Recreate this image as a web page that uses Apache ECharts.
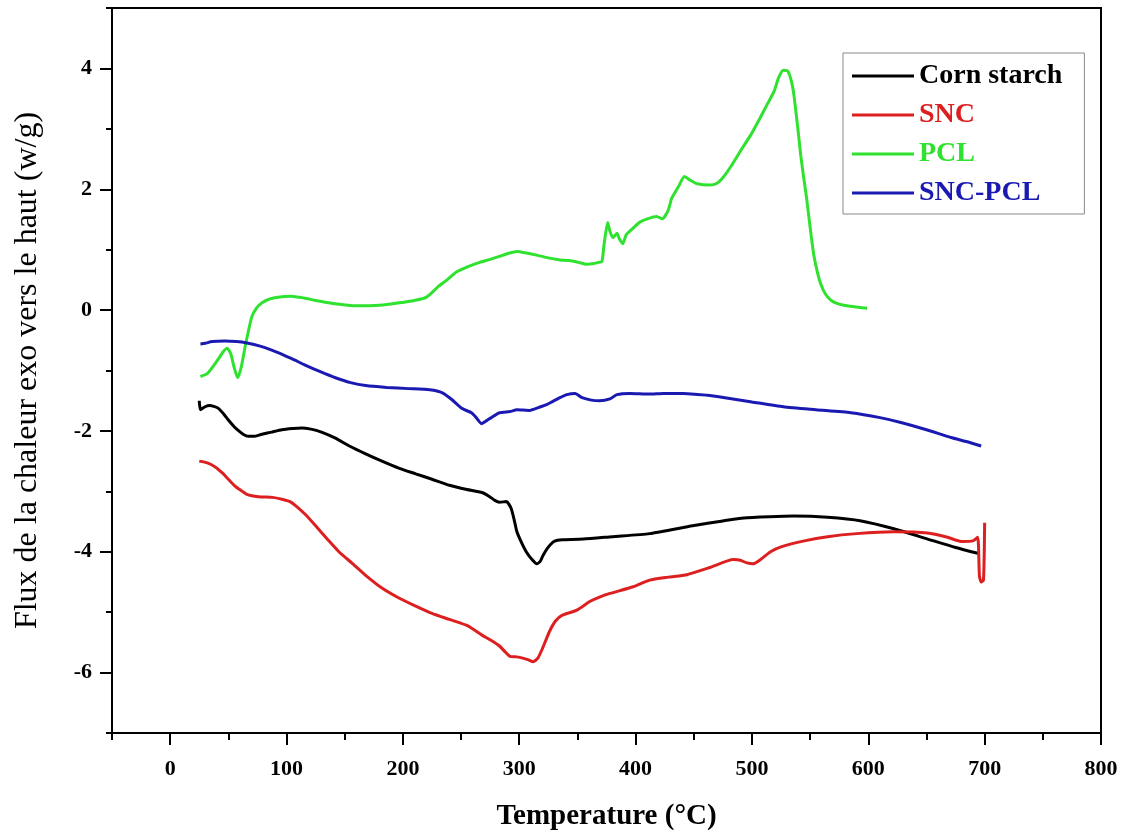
<!DOCTYPE html>
<html>
<head>
<meta charset="utf-8">
<style>
  html, body { margin: 0; padding: 0; background: #fff; }
  #chart { width: 1126px; height: 836px; }
</style>
<script src="https://cdn.jsdelivr.net/npm/echarts@6/dist/echarts.min.js"></script>
</head>
<body>
<div id="chart"></div>
<script>
// DSC curves, [temperature °C, heat flux W/g]
const cornStarch = [[25,-1.50],[26,-1.65],[30,-1.60],[34,-1.58],[41,-1.62],[46,-1.72],[50,-1.82],[55,-1.93],[59,-2.00],[63,-2.06],[67,-2.09],[72,-2.09],[78,-2.06],[87,-2.02],[96,-1.98],[105,-1.96],[113,-1.95],[121,-1.97],[130,-2.02],[142,-2.12],[154,-2.25],[168,-2.38],[182,-2.50],[197,-2.62],[211,-2.71],[225,-2.80],[240,-2.90],[255,-2.97],[268,-3.02],[274,-3.08],[279,-3.15],[283,-3.18],[289,-3.17],[293,-3.28],[296,-3.50],[298,-3.67],[302,-3.85],[306,-4.00],[311,-4.13],[315,-4.20],[318,-4.16],[320,-4.08],[324,-3.95],[329,-3.84],[333,-3.81],[337,-3.80],[355,-3.79],[380,-3.75],[412,-3.70],[449,-3.57],[475,-3.49],[493,-3.44],[515,-3.42],[536,-3.41],[565,-3.43],[594,-3.49],[622,-3.62],[651,-3.79],[675,-3.93],[695,-4.03]]

const snc = [[25,-2.50],[32,-2.53],[39,-2.60],[45,-2.70],[50,-2.80],[55,-2.90],[59,-2.96],[66,-3.05],[76,-3.09],[88,-3.10],[96,-3.13],[103,-3.17],[108,-3.24],[116,-3.38],[125,-3.57],[135,-3.79],[145,-4.00],[157,-4.20],[168,-4.39],[182,-4.60],[197,-4.77],[211,-4.90],[225,-5.02],[240,-5.12],[255,-5.22],[268,-5.38],[276,-5.47],[283,-5.56],[288,-5.66],[292,-5.73],[298,-5.74],[303,-5.76],[308,-5.79],[312,-5.82],[316,-5.76],[320,-5.60],[326,-5.32],[331,-5.15],[337,-5.05],[349,-4.97],[361,-4.82],[369,-4.75],[378,-4.69],[398,-4.58],[412,-4.47],[428,-4.42],[444,-4.38],[464,-4.26],[484,-4.13],[490,-4.14],[495,-4.18],[501,-4.20],[508,-4.12],[516,-4.00],[525,-3.92],[545,-3.82],[565,-3.75],[590,-3.70],[622,-3.67],[651,-3.69],[668,-3.76],[680,-3.83],[690,-3.82],[694,-3.76],[695.5,-4.40],[697,-4.50],[699,-4.47],[700,-3.52]]

const pcl = [[26,-1.10],[32,-1.05],[40,-0.85],[46,-0.68],[49,-0.63],[52,-0.72],[55,-0.95],[58,-1.12],[61,-0.95],[65,-0.55],[70,-0.12],[74,0.03],[79,0.12],[85,0.18],[91,0.21],[104,0.23],[115,0.20],[125,0.16],[140,0.11],[160,0.07],[180,0.08],[197,0.12],[210,0.16],[220,0.21],[231,0.40],[238,0.50],[246,0.63],[256,0.72],[266,0.79],[275,0.84],[283,0.89],[291,0.94],[298,0.97],[305,0.95],[315,0.91],[326,0.86],[335,0.83],[343,0.82],[351,0.79],[358,0.76],[364,0.77],[368,0.79],[371,0.80],[373,1.10],[376,1.45],[378,1.30],[380.5,1.20],[384,1.27],[386,1.18],[389,1.10],[392,1.25],[398,1.36],[404,1.46],[410,1.51],[418,1.55],[423,1.51],[428,1.65],[431,1.85],[434,1.95],[437,2.05],[442,2.21],[447,2.15],[453,2.09],[464,2.07],[470,2.10],[475,2.19],[482,2.38],[490,2.63],[499,2.90],[507,3.18],[513,3.40],[519,3.62],[523,3.85],[527,3.97],[531,3.95],[534,3.78],[536,3.57],[538,3.25],[540,2.91],[542,2.55],[544.5,2.19],[547,1.85],[549,1.53],[551,1.22],[553,0.93],[556,0.65],[559,0.44],[563,0.27],[568,0.16],[573,0.11],[579,0.08],[590,0.05],[599,0.03]]

const sncPcl = [[26,-0.56],[30,-0.55],[36,-0.52],[47,-0.51],[57,-0.52],[65,-0.54],[78,-0.60],[91,-0.69],[104,-0.80],[116,-0.91],[129,-1.02],[142,-1.12],[155,-1.20],[168,-1.25],[186,-1.28],[205,-1.30],[223,-1.32],[234,-1.37],[242,-1.48],[251,-1.63],[259,-1.70],[263,-1.78],[267.5,-1.88],[272,-1.83],[276,-1.78],[283,-1.70],[292,-1.68],[298,-1.65],[309,-1.66],[317,-1.61],[323,-1.57],[329,-1.51],[335,-1.45],[341,-1.40],[348,-1.38],[354,-1.45],[362,-1.49],[369,-1.50],[378,-1.47],[384,-1.40],[395,-1.38],[412,-1.39],[424,-1.38],[441,-1.38],[462,-1.41],[470,-1.43],[500,-1.52],[527,-1.60],[555,-1.65],[585,-1.70],[610,-1.78],[628,-1.86],[650,-1.98],[671,-2.11],[685,-2.18],[697,-2.25]]

const xMajorTicks = [0, 100, 200, 300, 400, 500, 600, 700, 800]
const xMinorTicks = [-50, 50, 150, 250, 350, 450, 550, 650, 750]
const yMajorTicks = [-6, -4, -2, 0, 2, 4]
const yMinorTicks = [-7, -5, -3, -1, 1, 3, 5]

const seriesNames = ['Corn starch', 'SNC', 'PCL', 'SNC-PCL']
const seriesColors = ['#000000', '#dd1f1f', '#2fe22f', '#1a1ab2']
const seriesData = [cornStarch, snc, pcl, sncPcl]

const chart = echarts.init(document.getElementById('chart'))

const serif = '"Liberation Serif", "Times New Roman", serif'
const tickLabel = { fontFamily: serif, fontWeight: 'bold', fontSize: 22, color: '#000' }
const axisLine = { show: true, onZero: false, lineStyle: { color: '#000', width: 2 } }

const option = {
  animation: false,
  backgroundColor: '#fff',
  grid: {
    left: 112, right: 25, top: 8, bottom: 100,
    show: true, borderColor: '#000', borderWidth: 2
  },
  legend: {
    orient: 'vertical',
    left: 843, top: 53,
    padding: [9, 22, 7, 9],
    itemGap: 11,
    itemWidth: 62,
    itemHeight: 3,
    icon: 'rect',
    borderColor: '#888',
    borderWidth: 1,
    textStyle: { fontFamily: serif, fontWeight: 'bold', fontSize: 28 },
    data: seriesNames.map((name, i) => ({
      name: name,
      textStyle: { color: seriesColors[i] }
    }))
  },
  xAxis: [
    {
      type: 'value', min: -50, max: 800, position: 'bottom',
      name: 'Temperature (°C)', nameLocation: 'middle', nameGap: 69,
      nameTextStyle: { fontFamily: serif, fontWeight: 'bold', fontSize: 29, color: '#000' },
      axisLine: axisLine,
      axisTick: { show: true, length: 12, customValues: xMajorTicks, lineStyle: { color: '#000', width: 2 } },
      axisLabel: Object.assign({ margin: 25, customValues: xMajorTicks }, tickLabel),
      splitLine: { show: false }
    },
    {
      type: 'value', min: -50, max: 800, position: 'bottom',
      axisLine: { show: false, onZero: false },
      axisTick: { show: true, length: 7, customValues: xMinorTicks, lineStyle: { color: '#000', width: 2 } },
      axisLabel: { show: false },
      splitLine: { show: false }
    }
  ],
  yAxis: [
    {
      type: 'value', min: -7, max: 5, position: 'left',
      name: 'Flux de la chaleur exo vers le haut (w/g)', nameLocation: 'middle', nameGap: 68,
      nameTextStyle: { fontFamily: serif, fontSize: 32, color: '#000' },
      axisLine: axisLine,
      axisTick: { show: true, length: 12, customValues: yMajorTicks, lineStyle: { color: '#000', width: 2 } },
      axisLabel: Object.assign({ margin: 20, customValues: yMajorTicks }, tickLabel),
      splitLine: { show: false }
    },
    {
      type: 'value', min: -7, max: 5, position: 'left',
      axisLine: { show: false, onZero: false },
      axisTick: { show: true, length: 6, customValues: yMinorTicks, lineStyle: { color: '#000', width: 2 } },
      axisLabel: { show: false },
      splitLine: { show: false }
    }
  ],
  series: seriesData.map((data, i) => ({
    name: seriesNames[i],
    type: 'line',
    xAxisIndex: 0,
    yAxisIndex: 0,
    data: data,
    smooth: 0.2,
    showSymbol: false,
    symbol: 'none',
    color: seriesColors[i],
    lineStyle: { color: seriesColors[i], width: 3 }
  }))
}

chart.setOption(option)
</script>
</body>
</html>
